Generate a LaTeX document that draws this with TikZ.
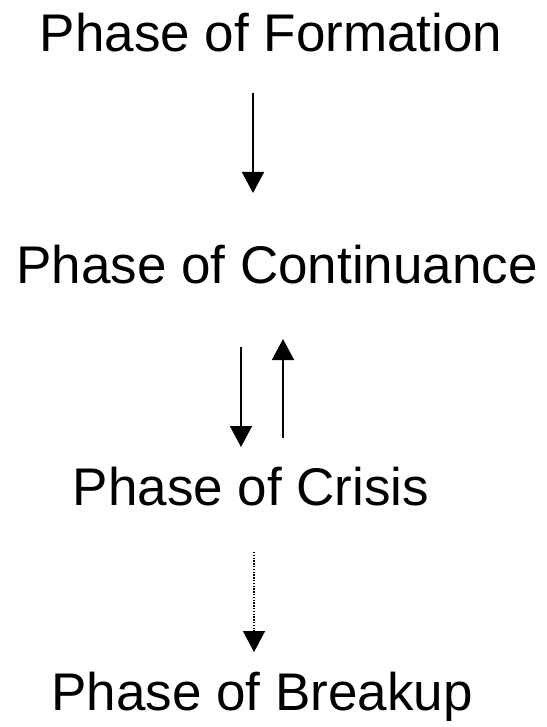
\documentclass[tikz,border=0pt]{standalone}
\usepackage{fontspec}
\setmainfont{Liberation Sans}
\usetikzlibrary{arrows.meta}

\begin{document}
\begin{tikzpicture}[x=1pt,y=1pt,yscale=-1,
  phase/.style={anchor=base,inner sep=0pt,font=\fontsize{53}{60}\selectfont},
  flow/.style={line width=1.5pt,-{Triangle[length=21pt,width=22pt]}},
  weakflow/.style={flow,dash pattern=on 1.4pt off 1.4pt}]
\useasboundingbox (0,0) rectangle (546,727);

% Text Node
\node[phase] (formation) at (271,52) {Phase of Formation};
% Text Node
\node[phase] (continuance) at (277,283) {Phase of Continuance};
% Text Node
\node[phase] (crisis) at (251,505) {Phase of Crisis};
% Text Node
\node[phase] (breakup) at (262,710) {Phase of Breakup};

% arrow ends
\coordinate (formationout) at (253,93);
\coordinate (continuancein) at (253,193);
\coordinate (continuanceout) at (241,347);
\coordinate (crisisin) at (241,447);
\coordinate (crisisout) at (283,438);
\coordinate (continuanceback) at (283,339);
\coordinate (crisisdown) at (254,552);
\coordinate (breakupin) at (254,652);

%Straight Lines
\draw[flow] (formationout) -- (continuancein);
\draw[flow] (continuanceout) -- (crisisin);
\draw[flow] (crisisout) -- (continuanceback);
%Dotted Line
\draw[weakflow] (crisisdown) -- (breakupin);

\end{tikzpicture}
\end{document}
